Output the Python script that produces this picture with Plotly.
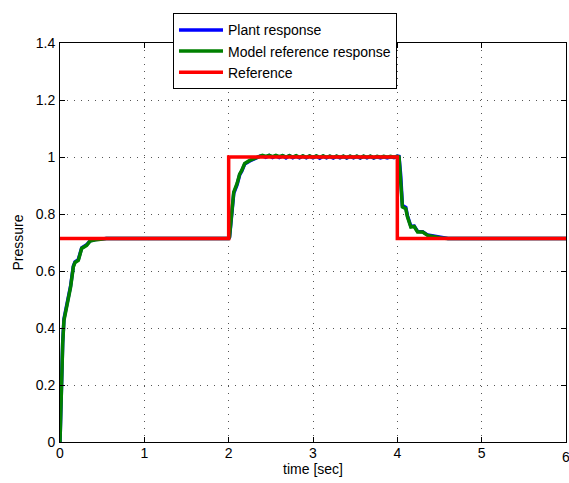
import plotly.graph_objects as go

# Reference (step) signal
ref_t = [0.0, 2.0, 2.0, 4.0, 4.0, 6.0]
ref_y = [0.714, 0.714, 1.0, 1.0, 0.714, 0.714]

# Model reference response
t = [0.0, 0.008, 0.012, 0.02, 0.032, 0.047, 0.071, 0.099, 0.126, 0.158, 0.178,
     0.217, 0.257, 0.316, 0.356, 0.435, 0.55, 1.0, 1.5, 2.0, 2.01, 2.04, 2.06,
     2.10, 2.13, 2.155, 2.19, 2.25, 2.30, 2.37,
     2.40, 2.44, 2.48, 2.52, 2.56, 2.60, 2.64, 2.68, 2.72, 2.76, 2.80, 2.84,
     2.88, 2.92, 2.96, 3.00, 3.04, 3.08, 3.12, 3.16, 3.20, 3.24, 3.28, 3.32,
     3.36, 3.40, 3.44, 3.48, 3.52, 3.56, 3.60, 3.64, 3.68, 3.72, 3.76, 3.80,
     3.84, 3.88, 3.92, 3.96, 4.0, 4.02, 4.04, 4.05, 4.06, 4.10, 4.12, 4.16,
     4.20, 4.24, 4.30, 4.36, 4.44, 4.52, 4.60, 5.0, 6.0]
model_y = [0.0, 0.10, 0.17, 0.26, 0.345, 0.427, 0.462, 0.497, 0.544, 0.614, 0.63,
           0.637, 0.679, 0.69, 0.705, 0.71, 0.714, 0.714, 0.714, 0.714, 0.72, 0.80, 0.877,
           0.907, 0.94, 0.953, 0.977, 0.988, 0.995, 1.004,
           1.006, 1.002, 1.006, 1.001, 1.006, 1.001, 1.005, 1.000, 1.005, 1.000, 1.005, 0.999,
           1.004, 0.999, 1.004, 0.999, 1.004, 0.999, 1.004, 0.999, 1.003, 0.999, 1.003, 0.999,
           1.003, 0.998, 1.003, 0.999, 1.003, 0.998, 1.003, 0.999, 1.003, 0.998, 1.002, 0.999,
           1.002, 0.999, 1.002, 0.999, 1.002, 1.0, 0.93, 0.883, 0.825, 0.819, 0.79, 0.754,
           0.756, 0.737, 0.737, 0.725, 0.72, 0.716, 0.714, 0.714, 0.714]

# Plant response
plant_y = [0.0, 0.11, 0.18, 0.27, 0.35, 0.432, 0.466, 0.50, 0.548, 0.617, 0.632,
           0.640, 0.681, 0.692, 0.706, 0.711, 0.714, 0.714, 0.714, 0.714, 0.718, 0.795, 0.872,
           0.903, 0.937, 0.950, 0.975, 0.986, 0.994, 1.003,
           1.004, 0.999, 1.005, 0.998, 1.004, 0.998, 1.004, 0.997, 1.004, 0.997, 1.003, 0.997,
           1.003, 0.997, 1.003, 0.997, 1.003, 0.996, 1.003, 0.997, 1.002, 0.996, 1.002, 0.997,
           1.002, 0.996, 1.002, 0.997, 1.002, 0.996, 1.002, 0.997, 1.002, 0.996, 1.001, 0.997,
           1.001, 0.997, 1.001, 0.998, 1.003, 1.002, 0.935, 0.888, 0.83, 0.823, 0.794, 0.757,
           0.758, 0.739, 0.738, 0.726, 0.721, 0.716, 0.714, 0.714, 0.714]

x_ticks = [0, 1, 2, 3, 4, 5, 6]
y_ticks = [0, 0.2, 0.4, 0.6, 0.8, 1.0, 1.2, 1.4]
y_tick_text = ["0", "0.2", "0.4", "0.6", "0.8", "1", "1.2", "1.4"]

FONT = "Liberation Sans, Arial, Helvetica, sans-serif"
FS = 14

fig = go.Figure()
fig.add_trace(go.Scatter(x=t, y=plant_y, mode="lines", name="Plant response",
                         line=dict(color="#0000ff", width=3.5)))
fig.add_trace(go.Scatter(x=t, y=model_y, mode="lines", name="Model reference response",
                         line=dict(color="#008000", width=3.5)))
fig.add_trace(go.Scatter(x=ref_t, y=ref_y, mode="lines", name="Reference",
                         line=dict(color="#ff0000", width=3.5)))

axis_common = dict(
    showline=True, linecolor="black", linewidth=1, mirror="ticks",
    ticks="inside", ticklen=5, tickcolor="black", tickwidth=1,
    showgrid=True, gridcolor="#555555", griddash="1px,6px", gridwidth=1,
    zeroline=False, tickfont=dict(family=FONT, size=FS, color="black"),
)

fig.update_xaxes(range=[0, 6], tickvals=x_ticks, ticktext=[str(v) for v in x_ticks],
                 ticklabelstandoff=-2,
                 title=dict(text="time [sec]", font=dict(family=FONT, size=FS, color="black"),
                            standoff=2),
                 **axis_common)
fig.update_yaxes(range=[0, 1.4], tickvals=y_ticks, ticktext=y_tick_text,
                 ticklabelstandoff=1,
                 title=dict(text="Pressure", font=dict(family=FONT, size=FS, color="black"),
                            standoff=8),
                 **axis_common)

# The last x tick label sits on the page edge and is cut off, as in the original
fig.add_annotation(x=6, y=0, xref="x", yref="y", text="6", showarrow=False,
                   yanchor="top", yshift=-5, font=dict(family=FONT, size=FS, color="black"))

fig.update_layout(
    width=569, height=483,
    margin=dict(l=60, r=3, t=43, b=41),
    paper_bgcolor="white", plot_bgcolor="white",
    font=dict(family=FONT, color="black"),
    legend=dict(x=0.2233, y=1.0744, xanchor="left", yanchor="top",
                bgcolor="white", bordercolor="black", borderwidth=1,
                itemwidth=44,
                font=dict(family=FONT, size=FS, color="black")),
)

fig.write_html("out.html")
